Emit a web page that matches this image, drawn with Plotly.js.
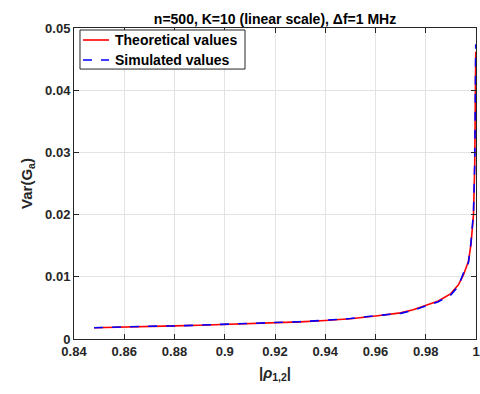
<!DOCTYPE html>
<html><head><meta charset="utf-8">
<script src="https://cdn.plot.ly/plotly-3.0.1.min.js"></script>
<style>html,body{margin:0;padding:0;background:#fff}#c{width:480px;height:394px}</style>
</head><body><div id="c"></div>
<script>
const rho = [0.848,0.86,0.87,0.88,0.89,0.90,0.91,0.92,0.93,0.94,0.95,0.96,0.97,0.975,0.98,0.985,0.99,0.993,0.995,0.997,0.998,0.999,0.9995,0.9999];
const theoretical = [0.0018,0.00195,0.00202,0.00211,0.0022,0.00231,0.00243,0.00258,0.00276,0.00298,0.00326,0.0037,0.0042,0.0047,0.0054,0.0061,0.0073,0.0087,0.0103,0.0125,0.0152,0.0200,0.0280,0.0462];
const simulated = [0.00182,0.00199,0.00206,0.00209,0.00222,0.00233,0.00241,0.00262,0.00279,0.00302,0.00329,0.00375,0.00412,0.00462,0.00530,0.0060,0.0071,0.0085,0.0106,0.0123,0.0155,0.0203,0.0284,0.0474];
const seriesNames = ['Theoretical values','Simulated values'];
const xTicks = [0.84,0.86,0.88,0.9,0.92,0.94,0.96,0.98,1];
const xTickText = ['0.84','0.86','0.88','0.9','0.92','0.94','0.96','0.98','1'];
const yTicks = [0,0.01,0.02,0.03,0.04,0.05];
const yTickText = ['0','0.01','0.02','0.03','0.04','0.05'];

const F = 'Liberation Sans, Arial, Helvetica, sans-serif';
const axCommon = {
  showline:true, mirror:'ticks', linecolor:'#262626', linewidth:1,
  ticks:'inside', ticklen:5, tickcolor:'#262626',
  showgrid:true, gridcolor:'#e3e3e3', gridwidth:1, zeroline:false,
  tickfont:{family:F, size:13, color:'#262626', weight:'bold'}
};
const colors = ['#ff0000','#0000ff'];
const dashes = ['solid','dash'];
const data = [
  {x:rho, y:theoretical, type:'scatter', mode:'lines', name:seriesNames[0],
   line:{color:colors[0], width:1.6}},
  {x:rho, y:simulated, type:'scatter', mode:'lines', name:seriesNames[1],
   line:{color:colors[1], width:1.6, dash:'dash'}}
];
// legend drawn manually in paper coordinates
const lg = {x0:0.0149, x1:0.4254, y0:0.868, y1:0.9936, lx0:0.0224, lx1:0.0871, tx:0.097, rows:[0.9614,0.897]};
const shapes = [
  {type:'rect', xref:'paper', yref:'paper', x0:lg.x0, x1:lg.x1, y0:lg.y0, y1:lg.y1,
   line:{color:'#262626', width:1}, fillcolor:'#fff', layer:'above'}
];
const annotations = [];
seriesNames.forEach((n,i)=>{
  shapes.push({type:'line', xref:'paper', yref:'paper', x0:lg.lx0, x1:lg.lx1, y0:lg.rows[i], y1:lg.rows[i],
    line:{color:colors[i], width:1.6, dash:dashes[i]}, layer:'above'});
  annotations.push({xref:'paper', yref:'paper', x:lg.tx, y:lg.rows[i], xanchor:'left', yanchor:'middle',
    text:n, showarrow:false, font:{family:F, size:14, color:'#000', weight:'bold'}});
});
const layout = {
  width:480, height:394,
  margin:{l:74, r:4, t:28, b:55},
  paper_bgcolor:'#fff', plot_bgcolor:'#fff',
  font:{family:F, color:'#262626'},
  title:{text:'n=500, K=10 (linear scale), \u0394f=1 MHz', font:{family:F, size:14, color:'#000', weight:'bold'}, x:0.573, xanchor:'center', yref:'container', y:0.939, yanchor:'bottom'},
  xaxis:Object.assign({}, axCommon, {range:[0.84,1], tickvals:xTicks, ticktext:xTickText,
    title:{text:'|<i>\u03c1</i><sub>1,2</sub>|', font:{family:F, size:15, color:'#262626', weight:'bold'}, standoff:9}}),
  yaxis:Object.assign({}, axCommon, {range:[0,0.05], tickvals:yTicks, ticktext:yTickText,
    title:{text:'Var(G<sub>a</sub>)', font:{family:F, size:15, color:'#262626', weight:'bold'}, standoff:8}}),
  showlegend:false,
  shapes:shapes, annotations:annotations
};
Plotly.newPlot('c', data, layout, {displayModeBar:false, staticPlot:true});
</script></body></html>
